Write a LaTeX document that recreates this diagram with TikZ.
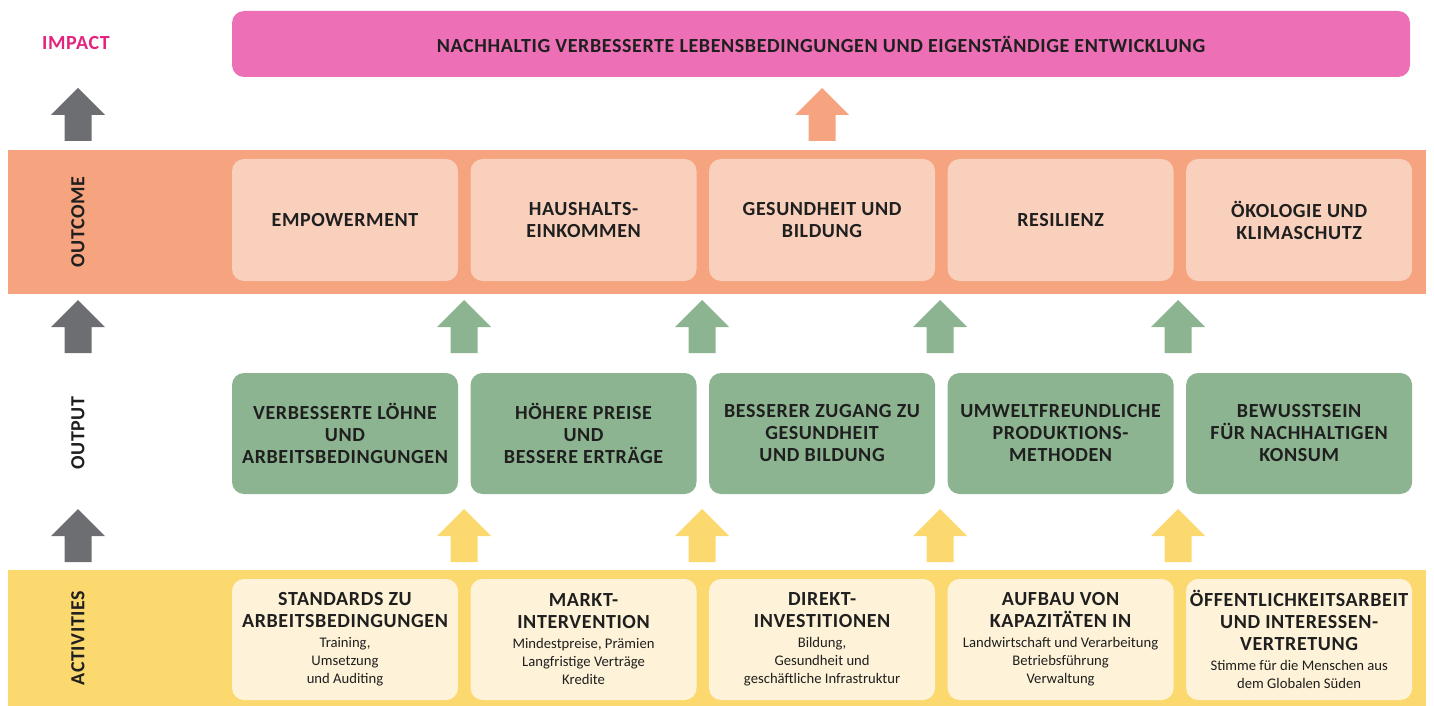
\documentclass[tikz,border=0pt]{standalone}
\usepackage{fontspec}
\setmainfont{Carlito}
\newfontfamily\hdfont[LetterSpace=3]{Carlito}
\usepackage{tikz}
\usetikzlibrary{positioning, calc}
\tikzset{
  box/.style = {rounded corners=9pt, align=center, minimum width=169.5pt, inner sep=0pt, text=black!88},
  pics/uparrow/.style = {code={
    \fill[#1] (0,0) -- (27,27) -- (13.5,27) -- (13.5,53) -- (-13.5,53) -- (-13.5,27) -- (-27,27) -- cycle;
  }}
}
\newcommand{\hd}{\fontsize{15}{16.5}\selectfont\hdfont\bfseries}
\newcommand{\sm}{\fontsize{11}{13.5}\selectfont}

\begin{document}
\begin{tikzpicture}[x=0.75pt, y=-0.75pt]
  \colorlet{impactPink}{rgb,255:red,237;green,111;blue,182}
  \colorlet{impactText}{rgb,255:red,226;green,35;blue,127}
  \colorlet{outcomeBand}{rgb,255:red,246;green,163;blue,127}
  \colorlet{outcomeBox}{rgb,255:red,249;green,208;blue,188}
  \colorlet{outputGreen}{rgb,255:red,140;green,180;blue,144}
  \colorlet{actBand}{rgb,255:red,251;green,217;blue,111}
  \colorlet{actBox}{rgb,255:red,254;green,243;blue,216}
  \colorlet{arrGray}{rgb,255:red,109;green,110;blue,113}
  \tikzset{
    sideLabel/.style={font=\hd, text=black!88},
    outcomeStyle/.style={box, fill=outcomeBox, minimum height=91.5pt, font=\hd},
    outputStyle/.style={box, fill=outputGreen, minimum height=90.75pt, font=\hd},
    actStyle/.style={box, fill=actBox, minimum height=90.75pt, font=\sm}
  }

  \useasboundingbox (0,0) rectangle (1434,706);

  \fill[outcomeBand] (8,150) rectangle (1426,294);
  \fill[actBand] (8,570) rectangle (1426,706);

  \node[sideLabel, text=impactText] (impact) at (76,43) {IMPACT};
  \node[sideLabel, rotate=90] (outcome) at (78,222) {OUTCOME};
  \node[sideLabel, rotate=90] (output) at (78,433) {OUTPUT};
  \node[sideLabel, rotate=90] (activities) at (78,638) {ACTIVITIES};

  \node[box, fill=impactPink, minimum width=883.5pt, minimum height=49.5pt, font=\hd]
    (goal) at (821,44) {NACHHALTIG VERBESSERTE LEBENSBEDINGUNGEN UND EIGENSTÄNDIGE ENTWICKLUNG};

  \node[outcomeStyle] (outc1) at (345,220) {EMPOWERMENT};
  \node[outcomeStyle, right=9pt of outc1] (outc2) {HAUSHALTS-\\EINKOMMEN};
  \node[outcomeStyle, right=9pt of outc2] (outc3) {GESUNDHEIT UND\\BILDUNG};
  \node[outcomeStyle, right=9pt of outc3] (outc4) {RESILIENZ};
  \node[outcomeStyle, right=9pt of outc4] (outc5) {ÖKOLOGIE UND\\KLIMASCHUTZ};

  \node[outputStyle] (outp1) at (345,433.5) {VERBESSERTE LÖHNE\\UND\\ARBEITSBEDINGUNGEN};
  \node[outputStyle, right=9pt of outp1] (outp2) {HÖHERE PREISE\\UND\\BESSERE ERTRÄGE};
  \node[outputStyle, right=9pt of outp2] (outp3) {BESSERER ZUGANG ZU\\GESUNDHEIT\\UND BILDUNG};
  \node[outputStyle, right=9pt of outp3] (outp4) {UMWELTFREUNDLICHE\\PRODUKTIONS-\\METHODEN};
  \node[outputStyle, right=9pt of outp4] (outp5) {BEWUSSTSEIN\\FÜR NACHHALTIGEN\\KONSUM};

  \node[actStyle] (act1) at (345,639.5)
    {{\hd STANDARDS ZU}\\[3pt]{\hd ARBEITSBEDINGUNGEN}\\[1.5pt]Training,\\Umsetzung\\und Auditing};
  \node[actStyle, right=9pt of act1] (act2)
    {{\hd MARKT-}\\[3pt]{\hd INTERVENTION}\\[1.5pt]Mindestpreise, Prämien\\Langfristige Verträge\\Kredite};
  \node[actStyle, right=9pt of act2] (act3)
    {{\hd DIREKT-}\\[3pt]{\hd INVESTITIONEN}\\[1.5pt]Bildung,\\Gesundheit und\\geschäftliche Infrastruktur};
  \node[actStyle, right=9pt of act3] (act4)
    {{\hd AUFBAU VON}\\[3pt]{\hd KAPAZITÄTEN IN}\\[1.5pt]Landwirtschaft und Verarbeitung\\Betriebsführung\\Verwaltung};
  \node[actStyle, right=9pt of act4] (act5)
    {{\hd ÖFFENTLICHKEITSARBEIT}\\[3pt]{\hd UND INTERESSEN-}\\[3pt]{\hd VERTRETUNG}\\[1.5pt]Stimme für die Menschen aus\\dem Globalen Süden};

  \pic at (78,88) {uparrow=arrGray};
  \pic at (78,300) {uparrow=arrGray};
  \pic at (78,509) {uparrow=arrGray};
  \pic at (822,88) {uparrow=outcomeBand};

  \pic at (464,300) {uparrow=outputGreen};
  \pic at (702,300) {uparrow=outputGreen};
  \pic at (940,300) {uparrow=outputGreen};
  \pic at (1178,300) {uparrow=outputGreen};

  \pic at (464,509) {uparrow=actBand};
  \pic at (702,509) {uparrow=actBand};
  \pic at (940,509) {uparrow=actBand};
  \pic at (1178,509) {uparrow=actBand};
\end{tikzpicture}
\end{document}
